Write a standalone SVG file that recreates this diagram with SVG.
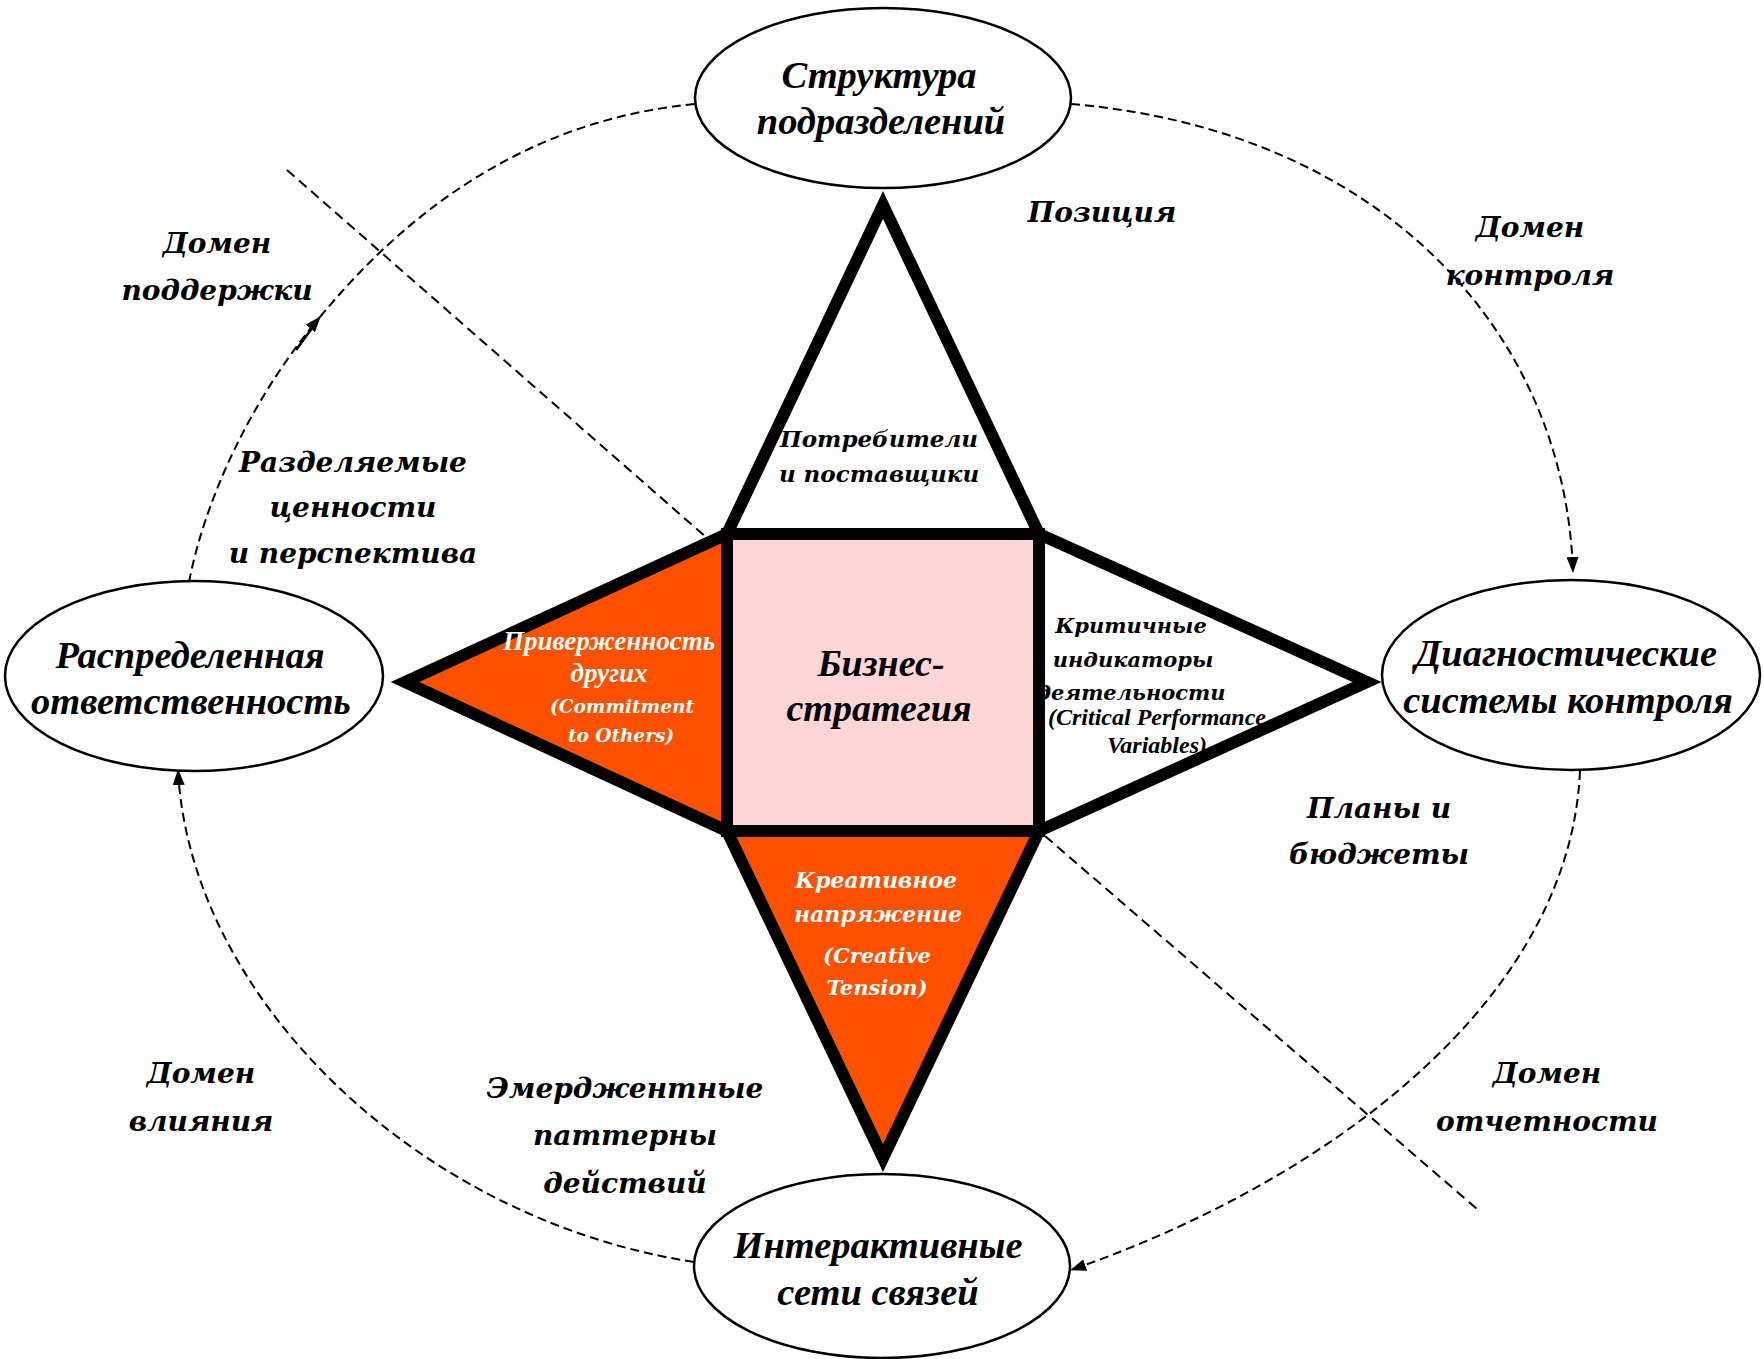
<svg xmlns="http://www.w3.org/2000/svg" width="1764" height="1359" viewBox="0 0 1764 1359">
<style>
.bg{fill:#ffffff}
.ell{fill:#ffffff;stroke:#000;stroke-width:2.5}
.arc{fill:none;stroke:#000;stroke-width:2;stroke-dasharray:9 5}
.diag{fill:none;stroke:#000;stroke-width:2;stroke-dasharray:10 6}
.shape{stroke:#000;stroke-width:12;stroke-linejoin:miter}
.t{font-family:"Liberation Serif","Times New Roman",serif;font-weight:bold;font-style:italic;text-anchor:middle;fill:#000}
.b{font-family:"DejaVu Serif","Liberation Serif",serif;font-weight:bold;font-style:italic;text-anchor:middle;fill:#000}
.w{fill:#ffffff}
.big{font-size:38.5px}
.dom{font-size:28px}
</style>
<defs>
<marker id="ah" viewBox="0 0 16 12" refX="15" refY="6" markerWidth="16" markerHeight="12" markerUnits="userSpaceOnUse" orient="auto">
<path d="M0,0 L16,6 L0,12 z" fill="#000"/>
</marker>
</defs>
<rect class="bg" x="0" y="0" width="1764" height="1359"/>
<g id="connectors">
<path class="arc" d="M189,582 C205,500 250,400 320,317" marker-end="url(#ah)"/>
<path d="M296,350 L318,320" stroke="#000" stroke-width="2.5" fill="none"/>
<path class="arc" d="M320,317 C400,220 520,120 696,104"/>
<path class="arc" d="M1071,104 C1380,130 1565,330 1573,572" marker-end="url(#ah)"/>
<path class="arc" d="M1580,771 C1570,1000 1330,1180 1071,1270" marker-end="url(#ah)"/>
<path class="arc" d="M694,1262 C420,1220 190,1000 178,770" marker-end="url(#ah)"/>
<path class="diag" d="M287,170 L715,545"/>
<path class="diag" d="M1045,836 L1477,1209"/>
</g>
<g id="node-top">
<ellipse class="ell" cx="883" cy="98" rx="188" ry="90"/>
<text class="t big" x="879" y="88">Структура</text>
<text class="t big" x="881" y="134">подразделений</text>
</g>
<g id="node-left">
<ellipse class="ell" cx="194" cy="676" rx="189" ry="95"/>
<text class="t big" x="190" y="668">Распределенная</text>
<text class="t big" x="191" y="714">ответственность</text>
</g>
<g id="node-right">
<ellipse class="ell" cx="1571" cy="675" rx="189" ry="95"/>
<text class="t big" x="1566" y="666">Диагностические</text>
<text class="t big" x="1568" y="713">системы контроля</text>
</g>
<g id="node-bottom">
<ellipse class="ell" cx="882" cy="1266" rx="188" ry="92"/>
<text class="t big" x="878" y="1258">Интерактивные</text>
<text class="t big" x="878" y="1305">сети связей</text>
</g>
<g id="tri-top">
<polygon class="shape" fill="#ffffff" points="883,205 1039,534 727,534"/>
<text class="b" font-size="23" x="879" y="447">Потребители</text>
<text class="b" font-size="23" x="879" y="482">и поставщики</text>
</g>
<g id="tri-right">
<polygon class="shape" fill="#ffffff" points="1039,534 1367,682 1039,831"/>
<text class="b" font-size="21" x="1131" y="633">Критичные</text>
<text class="b" font-size="21" x="1133" y="667">индикаторы</text>
<text class="b" font-size="21" x="1131" y="700">деятельности</text>
<text class="t" font-size="24" x="1157" y="725">(Critical Performance</text>
<text class="t" font-size="24" x="1157" y="753">Variables)</text>
</g>
<g id="tri-left">
<polygon class="shape" fill="#ff5000" points="727,534 405,682 727,831"/>
<text class="t w" font-size="27" x="609" y="650">Приверженность</text>
<text class="t w" font-size="27" x="609" y="682">других</text>
<text class="b w" font-size="18.5" x="622" y="713">(Commitment</text>
<text class="b w" font-size="18.5" x="621" y="742">to Others)</text>
</g>
<g id="tri-bottom">
<polygon class="shape" fill="#ff5000" points="727,831 1039,831 883,1158"/>
<text class="b w" font-size="22" x="876" y="888">Креативное</text>
<text class="b w" font-size="22" x="878" y="922">напряжение</text>
<text class="b w" font-size="21" x="877" y="963">(Creative</text>
<text class="b w" font-size="21" x="877" y="995">Tension)</text>
</g>
<g id="center-square">
<rect class="shape" fill="#ffd6d6" x="727" y="534" width="312" height="297"/>
<text class="t" font-size="38" x="881" y="676">Бизнес-</text>
<text class="t" font-size="38" x="879" y="721">стратегия</text>
</g>
<g id="labels">
<text class="b dom" x="217" y="253">Домен</text>
<text class="b dom" x="217" y="300">поддержки</text>
<text class="b dom" x="1102" y="222">Позиция</text>
<text class="b dom" x="1530" y="237">Домен</text>
<text class="b dom" x="1530" y="285">контроля</text>
<text class="b dom" x="353" y="472">Разделяемые</text>
<text class="b dom" x="353" y="517">ценности</text>
<text class="b dom" x="353" y="563">и перспектива</text>
<text class="b dom" x="1379" y="818">Планы и</text>
<text class="b dom" x="1379" y="864">бюджеты</text>
<text class="b dom" x="201" y="1083">Домен</text>
<text class="b dom" x="201" y="1131">влияния</text>
<text class="b dom" x="625" y="1098">Эмерджентные</text>
<text class="b dom" x="625" y="1145">паттерны</text>
<text class="b dom" x="625" y="1193">действий</text>
<text class="b dom" x="1547" y="1083">Домен</text>
<text class="b dom" x="1547" y="1131">отчетности</text>
</g>
</svg>
